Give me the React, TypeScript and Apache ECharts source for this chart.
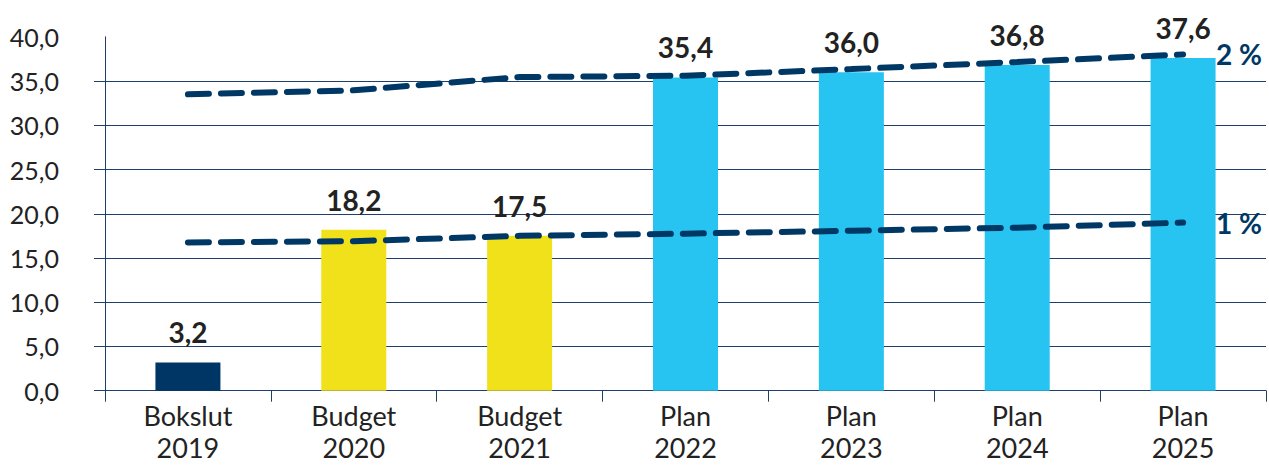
import React, { useEffect, useRef } from "react";
import * as echarts from "echarts";

const categories = [
  "Bokslut\n2019",
  "Budget\n2020",
  "Budget\n2021",
  "Plan\n2022",
  "Plan\n2023",
  "Plan\n2024",
  "Plan\n2025",
];
const barValues = [3.2, 18.2, 17.5, 35.4, 36.0, 36.8, 37.6];
const barColors = ["#003665", "#F0E11A", "#F0E11A", "#27C3F1", "#27C3F1", "#27C3F1", "#27C3F1"];
const line2pct = [33.5, 33.95, 35.45, 35.6, 36.35, 37.15, 38.0];
const line1pct = [16.75, 16.9, 17.5, 17.75, 18.08, 18.43, 19.0];
const lineNames = ["2 %", "1 %"];

const NAVY = "#003865";
const TEXT = "#222222";
const FONT = "Lato, 'Noto Sans', sans-serif";

const fmt = (v: number) => v.toFixed(1).replace(".", ",");

export default function App() {
  const ref = useRef<HTMLDivElement>(null);
  useEffect(() => {
    if (!ref.current) return;
    const chart = echarts.init(ref.current, null, { renderer: "svg" });
    const gridColors = ["#1f3f6b", "#1f3f6b", "#1f3f6b", "#1f3f6b", "#1f3f6b", "#1f3f6b", "#1f3f6b", "#1f3f6b", "transparent"];
    const dashLine = (name: string, data: number[]) => ({
      type: "line",
      name,
      data,
      z: 5,
      symbol: "none",
      lineStyle: { color: NAVY, width: 6, type: [21, 12], cap: "round" },
      endLabel: {
        show: true,
        formatter: name,
        distance: 33,
        color: NAVY,
        fontFamily: FONT,
        fontWeight: "bold",
        fontSize: 28,
      },
    });
    chart.setOption({
      animation: false,
      textStyle: { fontFamily: FONT },
      grid: { left: 105, right: 3, top: 36.8, bottom: 74.3, containLabel: false, outerBoundsMode: "none" },
      xAxis: {
        type: "category",
        data: categories,
        boundaryGap: true,
        axisLine: { show: true, lineStyle: { color: "#1f3f6b", width: 1 } },
        axisTick: { show: true, length: 11, alignWithLabel: false, lineStyle: { color: "#1f3f6b" } },
        axisLabel: {
          color: TEXT,
          fontFamily: FONT,
          fontSize: 27,
          lineHeight: 32,
          margin: 9,
          interval: 0,
        },
      },
      yAxis: {
        type: "value",
        min: 0,
        max: 40,
        interval: 5,
        axisLine: { show: true, lineStyle: { color: "#1f3f6b", width: 1 } },
        axisTick: { show: true, length: 11, lineStyle: { color: "#1f3f6b" }, customValues: [0, 5, 10, 15, 20, 25, 30, 35] },
        splitLine: { show: true, lineStyle: { color: gridColors, width: 1 } },
        axisLabel: {
          color: TEXT,
          fontFamily: FONT,
          fontSize: 25,
          margin: 46,
          formatter: (v: number) => fmt(v),
        },
      },
      series: [
        {
          type: "bar",
          data: barValues.map((v, i) => ({ value: v, itemStyle: { color: barColors[i] } })),
          barWidth: 65,
          z: 2,
          label: {
            show: true,
            position: "top",
            distance: 16,
            color: TEXT,
            fontFamily: FONT,
            fontWeight: "bold",
            fontSize: 28,
            formatter: (p: any) => fmt(p.value),
          },
        },
        dashLine(lineNames[0], line2pct),
        dashLine(lineNames[1], line1pct),
      ],
    });
    return () => chart.dispose();
  }, []);
  return (
    <div
      ref={ref}
      style={{ position: "fixed", left: 0, top: 0, width: 1269, height: 465, background: "#fff" }}
    />
  );
}
